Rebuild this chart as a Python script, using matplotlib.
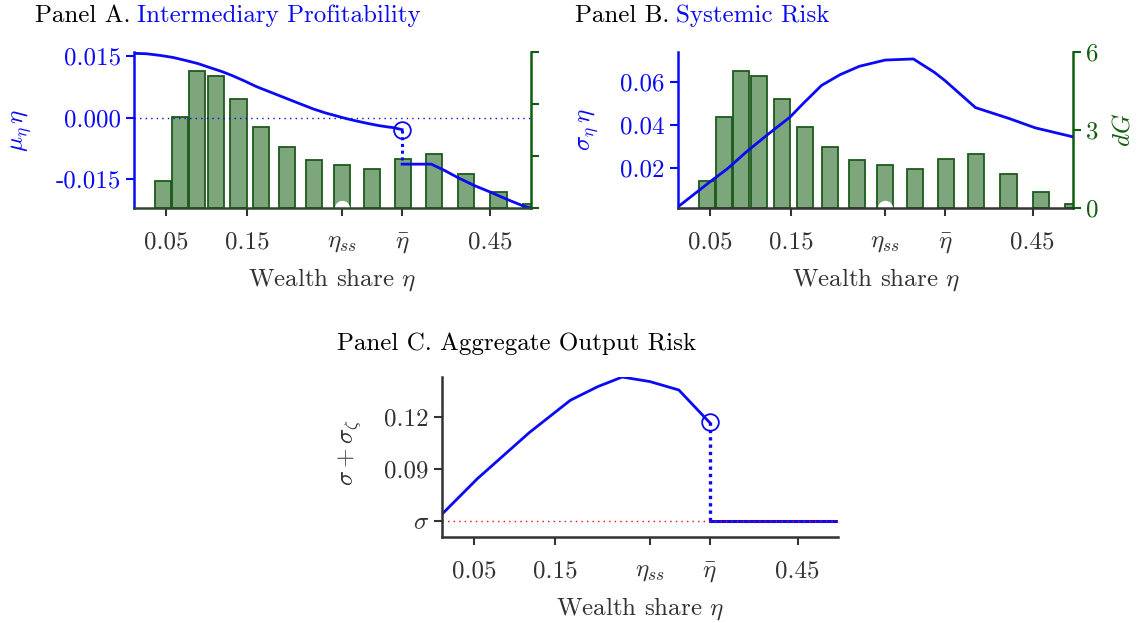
import numpy as np
import matplotlib
matplotlib.use("Agg")
import matplotlib.pyplot as plt

plt.rcParams["font.family"] = "cmr10"
plt.rcParams["mathtext.fontset"] = "cm"
plt.rcParams["axes.unicode_minus"] = False

BLUE = "#0a0af5"
GREEN = "#0f5e0f"
DARK = "#333333"
BAR_FACE = "#7da67d"
BAR_EDGE = "#1c5a1c"

# ---- data -----------------------------------------------------------------
eta_ss = 0.267
eta_bar = 0.341
x_ticks = [0.05, 0.15, eta_ss, eta_bar, 0.45]
x_ticklabels = ["0.05", "0.15", r"$\eta_{ss}$", r"$\bar{\eta}$", "0.45"]

# stationary density dG (histogram bars)
bar_x = [0.046, 0.067, 0.088, 0.111, 0.139, 0.167, 0.199, 0.232, 0.267,
         0.304, 0.342, 0.380, 0.420, 0.460, 0.500]
bar_h = [1.04, 3.49, 5.29, 5.08, 4.19, 3.11, 2.35, 1.84, 1.64,
         1.52, 1.90, 2.07, 1.31, 0.61, 0.16]

# Panel A: drift mu_eta * eta
a_x_left = [0.009, 0.025, 0.042, 0.058, 0.073, 0.089, 0.104, 0.118, 0.131,
            0.146, 0.161, 0.179, 0.197, 0.215, 0.232, 0.246, 0.259, 0.272,
            0.285, 0.299, 0.312, 0.322, 0.330, 0.341]
a_y_left = [0.0157, 0.0156, 0.0152, 0.0147, 0.0140, 0.0132, 0.0122, 0.0113,
            0.0103, 0.0090, 0.0076, 0.0062, 0.0048, 0.0034, 0.0021, 0.0012,
            0.0005, -0.0002, -0.0008, -0.0014, -0.0019, -0.0022, -0.0024,
            -0.0029]
a_x_right = [0.341, 0.377, 0.393, 0.410, 0.430, 0.451, 0.472, 0.492, 0.500]
a_y_right = [-0.0113, -0.0113, -0.0128, -0.0146, -0.0165, -0.0182, -0.0200,
             -0.0216, -0.0220]

# Panel B: volatility sigma_eta * eta
b_x = [0.009, 0.050, 0.072, 0.095, 0.123, 0.149, 0.165, 0.188, 0.211, 0.235,
       0.267, 0.302, 0.328, 0.341, 0.379, 0.421, 0.453, 0.500]
b_y = [0.0018, 0.0138, 0.0200, 0.0277, 0.0362, 0.0438, 0.0500, 0.0585, 0.0635,
       0.0674, 0.0703, 0.0708, 0.0646, 0.0608, 0.0482, 0.0431, 0.0388, 0.0346]

# Panel C: sigma + sigma_zeta
sigma = 0.06
c_x_left = [0.011, 0.054, 0.118, 0.169, 0.203, 0.233, 0.267, 0.303, 0.341]
c_y_left = [0.0643, 0.0845, 0.1111, 0.1299, 0.1378, 0.1433, 0.1407, 0.1358, 0.1170]
c_x_right = [0.341, 0.500]
c_y_right = [sigma, sigma]

XLIM = (0.01, 0.5)
FS = 18


def style_bottom(ax, color=DARK):
    ax.set_xlim(*XLIM)
    ax.set_xticks(x_ticks)
    ax.set_xticklabels(x_ticklabels)
    ax.spines["bottom"].set_color(color)
    ax.tick_params(axis="x", colors=DARK, labelsize=FS, length=6, width=1.5,
                   direction="out", pad=11)
    ax.set_xlabel(r"Wealth share $\eta$", fontsize=FS, color=DARK, labelpad=8)


def twin_bars(ax, show_labels):
    tw = ax.twinx()
    tw.bar(bar_x, bar_h, width=0.02, color=BAR_FACE, edgecolor=BAR_EDGE,
           linewidth=1.3)
    tw.set_ylim(0, 6)
    for s in ("top", "left", "bottom"):
        tw.spines[s].set_visible(False)
    tw.spines["right"].set_color(GREEN)
    tw.spines["right"].set_linewidth(1.8)
    tw.tick_params(axis="y", colors=GREEN, labelsize=FS, length=6, width=1.5)
    if show_labels:
        tw.set_yticks([0, 3, 6])
        tw.set_ylabel(r"$dG$", color=GREEN, fontsize=FS, labelpad=10)
    else:
        tw.set_yticks([0, 2, 4, 6])
        tw.set_yticklabels([])
    ax.set_zorder(tw.get_zorder() + 1)
    ax.patch.set_visible(False)
    return tw


def base_axes(rect, left_color):
    ax = fig.add_axes(rect)
    ax.spines["top"].set_visible(False)
    ax.spines["right"].set_visible(False)
    ax.spines["left"].set_color(left_color)
    for s in ("left", "bottom"):
        ax.spines[s].set_linewidth(1.8)
    ax.tick_params(axis="y", colors=left_color, labelsize=FS, length=6,
                   width=1.5)
    return ax


fig = plt.figure(figsize=(11.48, 6.23), dpi=100)

# ---- Panel A ---------------------------------------------------------------
axA = base_axes([0.1167, 0.666, 0.3458, 0.2504], BLUE)
twin_bars(axA, show_labels=False)
axA.plot(a_x_left, a_y_left, color=BLUE, lw=2)
axA.plot(a_x_right, a_y_right, color=BLUE, lw=2)
axA.plot([eta_bar, eta_bar], [a_y_left[-1], a_y_right[0]], color=BLUE, lw=2.2,
         ls=(0, (1, 1.2)))
axA.plot([eta_bar], [a_y_left[-1]], "o", ms=12, mfc="none", mec=BLUE, mew=1.3)
axA.axhline(0, color=BLUE, lw=1, ls=(0, (1, 3)))
axA.plot([eta_ss], [-0.022], "o", ms=10, mfc="white", mec="white", zorder=1)
axA.set_ylim(-0.022, 0.016)
axA.set_yticks([-0.015, 0.0, 0.015])
axA.set_yticklabels(["-0.015", "0.000", "0.015"])
style_bottom(axA, color="#2b4a2b")
axA.text(-0.282, 0.5, r"$\mu_\eta\,\eta$", transform=axA.transAxes,
         rotation=90, ha="center", va="center", fontsize=FS, color=BLUE)

# ---- Panel B ---------------------------------------------------------------
axB = base_axes([0.5906, 0.666, 0.3441, 0.2504], BLUE)
twin_bars(axB, show_labels=True)
axB.plot(b_x, b_y, color=BLUE, lw=2)
axB.plot([eta_ss], [0.0015], "o", ms=10, mfc="white", mec="white", zorder=1)
axB.set_ylim(0.0015, 0.074)
axB.set_yticks([0.02, 0.04, 0.06])
axB.set_yticklabels(["0.02", "0.04", "0.06"])
style_bottom(axB)
axB.text(-0.225, 0.5, r"$\sigma_\eta\,\eta$", transform=axB.transAxes,
         rotation=90, ha="center", va="center", fontsize=FS, color=BLUE)

# ---- Panel C ---------------------------------------------------------------
axC = base_axes([0.385, 0.138, 0.345, 0.2568], DARK)
axC.plot(c_x_left, c_y_left, color=BLUE, lw=2)
axC.plot(c_x_right, c_y_right, color=BLUE, lw=2.2)
axC.plot([eta_bar, eta_bar], [c_y_left[-1], sigma], color=BLUE, lw=2.4,
         ls=(0, (1, 1.2)))
axC.plot([eta_bar], [c_y_left[-1]], "o", ms=12, mfc="none", mec=BLUE, mew=1.3)
axC.axhline(sigma, color="red", lw=1, ls=(0, (1, 3)))
axC.set_ylim(0.0506, 0.1433)
axC.set_yticks([sigma, 0.09, 0.12])
axC.set_yticklabels([r"$\sigma$", "0.09", "0.12"])
style_bottom(axC)
axC.text(-0.232, 0.53, r"$\sigma+\sigma_\zeta$", transform=axC.transAxes,
         rotation=90, ha="center", va="center", fontsize=FS, color=DARK)

# ---- titles ----------------------------------------------------------------
for x, y, head, tail in [(0.0305, 0.965, "Panel A.", "Intermediary Profitability"),
                         (0.5009, 0.965, "Panel B.", "Systemic Risk"),
                         (0.2935, 0.438, "Panel C. Aggregate Output Risk", None)]:
    t = fig.text(x, y, head, fontsize=FS, color="black", va="baseline")
    if tail:
        axA.annotate(tail, xy=(1, 0), xycoords=t, xytext=(5, 0),
                     textcoords="offset points", fontsize=FS, color=BLUE,
                     va="bottom", annotation_clip=False)

fig.savefig("out.png", dpi=100)
